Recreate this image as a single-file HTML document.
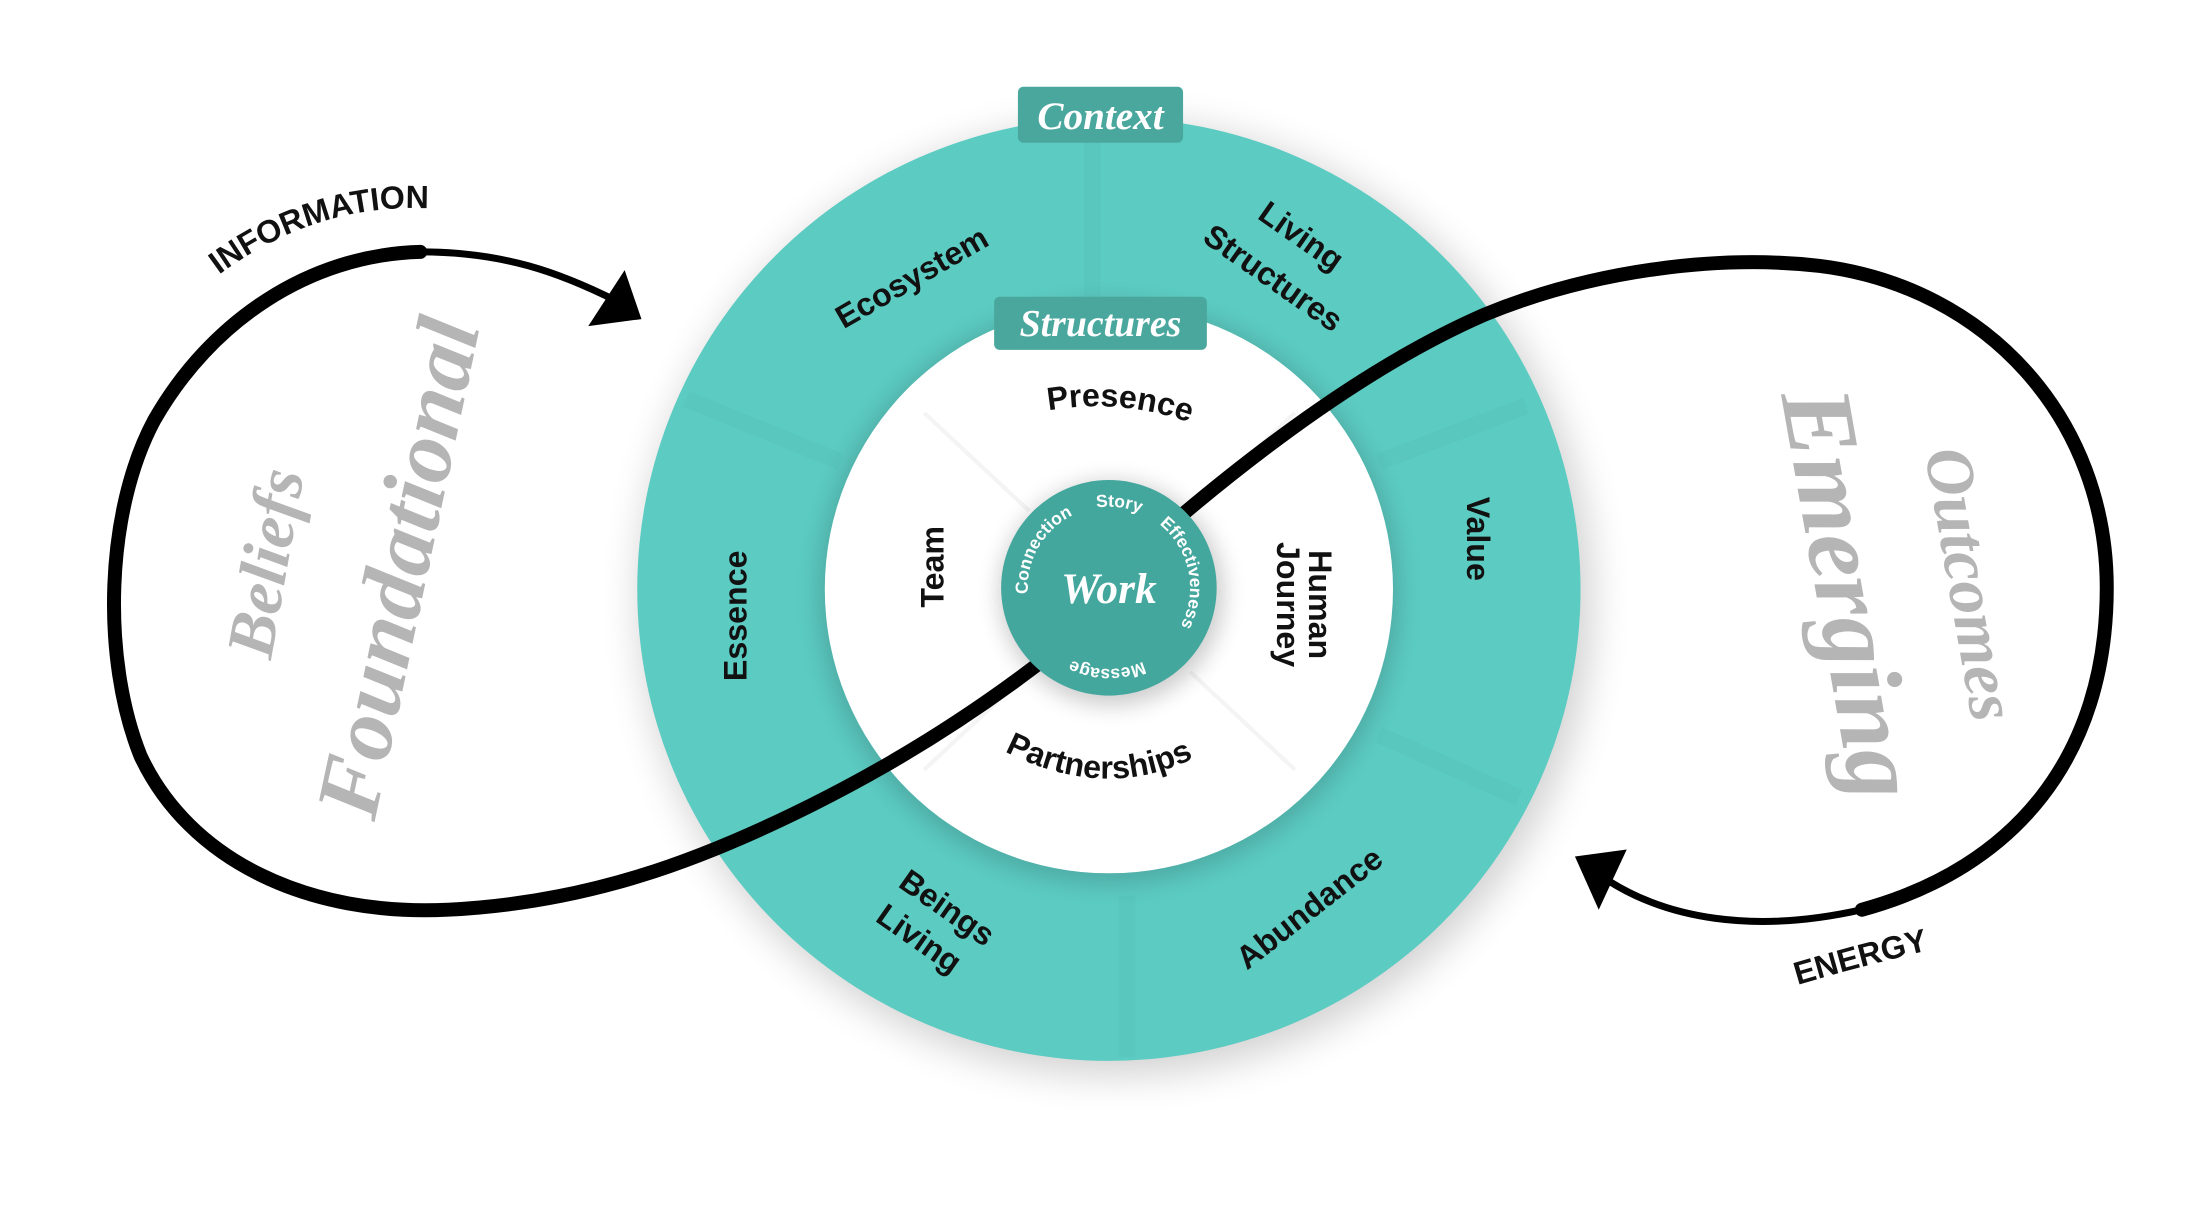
<!DOCTYPE html>
<html><head><meta charset="utf-8"><style>
html,body{margin:0;padding:0;background:#fff;}
svg{display:block;}
.lab{font-family:"Liberation Sans",sans-serif;font-weight:bold;font-size:23px;fill:#111;}
.gray{font-family:"Liberation Serif",serif;font-style:italic;font-weight:bold;fill:#b5b5b5;}
.wt{font-family:"Liberation Serif",serif;font-style:italic;font-weight:bold;fill:#fff;}
.sm{font-family:"Liberation Sans",sans-serif;font-weight:bold;font-size:12.5px;fill:#fff;}
</style></head><body>
<svg width="2187" height="1205" viewBox="0 0 1562 861" xmlns="http://www.w3.org/2000/svg">
<defs>
<filter id="sh" x="-30%" y="-30%" width="160%" height="160%"><feGaussianBlur stdDeviation="14"/></filter>
<filter id="sh2" x="-50%" y="-50%" width="200%" height="200%"><feGaussianBlur stdDeviation="8"/></filter>
<path id="infoArc" d="M145,205 Q225,140 320,150"/>
<path id="enArc" d="M1280,705 Q1330,690 1382,678"/>
<path id="cc" d="M734,420 A58,58 0 1 1 850,420 A58,58 0 1 1 734,420"/>
<path id="partArc" d="M705,530 Q790,580 865,535"/>
<path id="presArc" d="M740,295 Q800,282 858,305"/>
</defs>
<circle cx="797" cy="428" r="340" fill="#000" opacity="0.18" filter="url(#sh)"/>
<circle cx="792" cy="421" r="337" fill="#5ccbc2"/>
<g stroke="#4fb9b0" stroke-width="12" opacity="0.2">
<line x1="780" y1="90" x2="780" y2="215"/>
<line x1="490" y1="285" x2="600" y2="330"/>
<line x1="1090" y1="290" x2="985" y2="330"/>
<line x1="805" y1="640" x2="805" y2="755"/>
<line x1="985" y1="525" x2="1085" y2="570"/>
</g>
<circle cx="792" cy="424" r="208" fill="#000" opacity="0.15" filter="url(#sh2)"/>
<circle cx="792" cy="421" r="203" fill="#fff"/>
<g stroke="#f4f4f4" stroke-width="3">
<line x1="660" y1="295" x2="735" y2="365"/>
<line x1="925" y1="295" x2="850" y2="365"/>
<line x1="660" y1="550" x2="735" y2="480"/>
<line x1="925" y1="550" x2="850" y2="480"/>
</g>
<path d="M300,180 C220,182 150,230 110,300 C75,365 72,470 100,540 C135,615 220,655 320,650 C420,645 500,615 580,575 C650,540 710,500 760,460 L830,380 C900,320 980,260 1060,225 C1140,192 1230,182 1300,190 C1420,205 1505,300 1505,420 C1505,540 1440,620 1330,650" fill="none" stroke="#000" stroke-width="10" stroke-linecap="round"/>
<path d="M300,180 C360,180 400,195 440,215" fill="none" stroke="#000" stroke-width="5"/>
<path d="M1330,650 C1250,668 1190,655 1150,630" fill="none" stroke="#000" stroke-width="5"/>
<polygon points="420,233 458,228 446,193" fill="#000"/>
<polygon points="1125,612 1162,607 1142,650" fill="#000"/>
<circle cx="794" cy="424" r="80" fill="#000" opacity="0.2" filter="url(#sh2)"/>
<circle cx="792" cy="420" r="77" fill="#43a79d"/>
<text x="792" y="431" text-anchor="middle" class="wt" font-size="31">Work</text>
<text class="sm"><textPath href="#cc" startOffset="30" text-anchor="middle">Connection</textPath></text>
<text class="sm"><textPath href="#cc" startOffset="98" text-anchor="middle">Story</textPath></text>
<text class="sm"><textPath href="#cc" startOffset="170" text-anchor="middle">Effectiveness</textPath></text>
<text class="sm"><textPath href="#cc" startOffset="274" text-anchor="middle">Message</textPath></text>
<rect x="727" y="62" width="118" height="40" rx="4" fill="#4aa79d"/>
<text x="786" y="92" text-anchor="middle" class="wt" font-size="28">Context</text>
<rect x="710" y="212" width="152" height="38" rx="4" fill="#4aa79d"/>
<text x="786" y="240" text-anchor="middle" class="wt" font-size="27">Structures</text>
<text class="lab" transform="translate(655,205) rotate(-30)" text-anchor="middle">Ecosystem</text>
<text class="lab" transform="translate(925,175) rotate(35)" text-anchor="middle">Living</text>
<text class="lab" transform="translate(905,205) rotate(35)" text-anchor="middle">Structures</text>
<text class="lab" transform="translate(1048,385) rotate(90)" text-anchor="middle">Value</text>
<text class="lab" transform="translate(940,655) rotate(-38)" text-anchor="middle">Abundance</text>
<text class="lab" transform="translate(672,655) rotate(35)" text-anchor="middle">Beings</text>
<text class="lab" transform="translate(652,677) rotate(35)" text-anchor="middle">Living</text>
<text class="lab" transform="translate(533,440) rotate(-90)" text-anchor="middle">Essence</text>
<text class="lab"><textPath href="#presArc" startOffset="50%" text-anchor="middle">Presence</textPath></text>
<text class="lab" transform="translate(674,405) rotate(-90)" text-anchor="middle">Team</text>
<text class="lab" transform="translate(935,432) rotate(90)" text-anchor="middle">Human</text>
<text class="lab" transform="translate(912,432) rotate(90)" text-anchor="middle">Journey</text>
<text class="lab"><textPath href="#partArc" startOffset="50%" text-anchor="middle">Partnerships</textPath></text>
<text class="lab" font-size="21"><textPath href="#infoArc" startOffset="50%" text-anchor="middle">INFORMATION</textPath></text>
<text class="lab" font-size="21"><textPath href="#enArc" startOffset="50%" text-anchor="middle">ENERGY</textPath></text>
<text class="gray" font-size="48" transform="translate(205,405) rotate(-80)" text-anchor="middle">Beliefs</text>
<text class="gray" font-size="64" transform="translate(305,410) rotate(-78)" text-anchor="middle">Foundational</text>
<text class="gray" font-size="72" transform="translate(1298,428) rotate(80)" text-anchor="middle">Emerging</text>
<text class="gray" font-size="48" transform="translate(1392,420) rotate(80)" text-anchor="middle">Outcomes</text>
</svg>
</body></html>
